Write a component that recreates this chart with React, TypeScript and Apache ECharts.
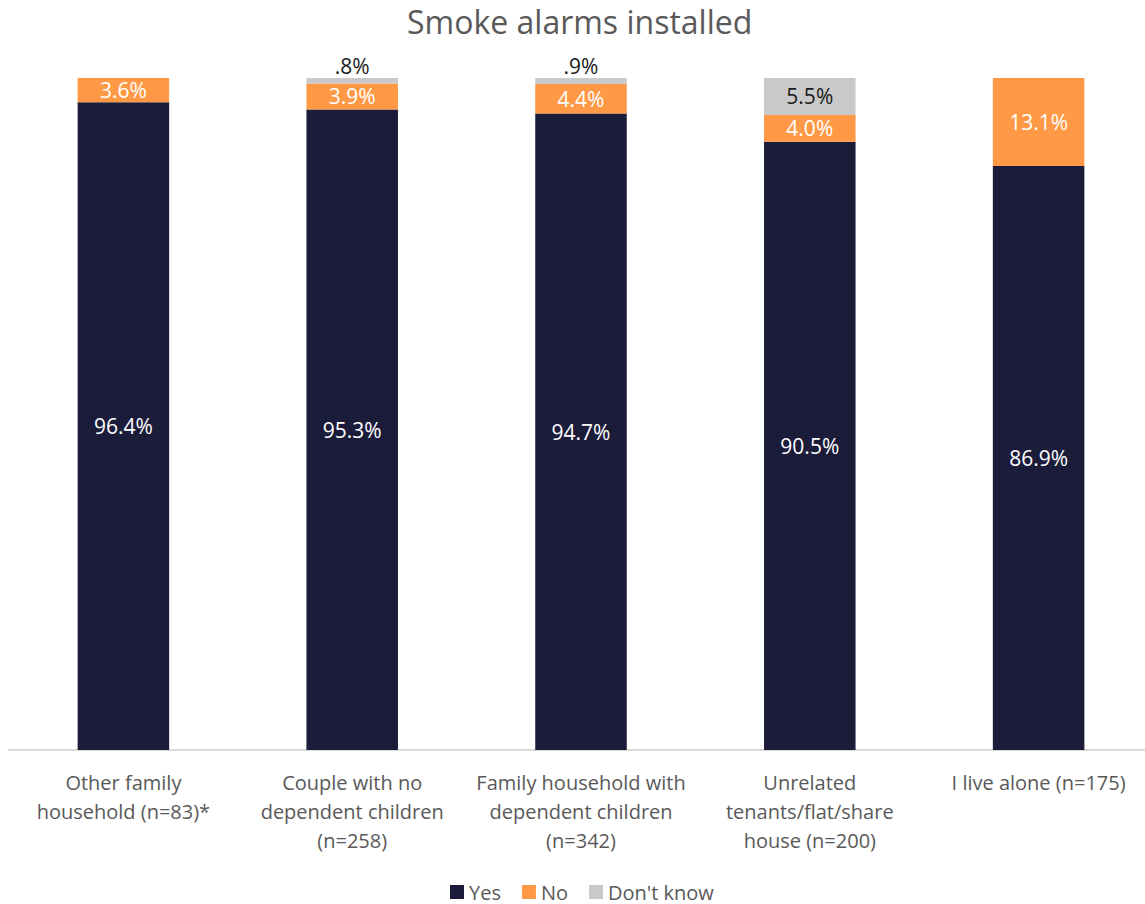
import React, { useEffect, useRef } from "react";
import * as echarts from "echarts";

const categories = [
  "Other family\nhousehold (n=83)*",
  "Couple with no\ndependent children\n(n=258)",
  "Family household with\ndependent children\n(n=342)",
  "Unrelated\ntenants/flat/share\nhouse (n=200)",
  "I live alone (n=175)",
];
const yesValues = [96.4, 95.3, 94.7, 90.5, 86.9];
const noValues = [3.6, 3.9, 4.4, 4.0, 13.1];
const dontKnowValues = [0, 0.8, 0.9, 5.5, 0];

const FONT = "'Open Sans', sans-serif";

function fmt(v: number): string {
  const s = v.toFixed(1);
  return (v < 1 ? s.replace(/^0/, "") : s) + "%";
}

export default function App() {
  const ref = useRef<HTMLDivElement>(null);
  useEffect(() => {
    document.body.style.margin = "0";
    document.body.style.overflow = "hidden";
    const chart = echarts.init(ref.current!, null, { renderer: "svg" });
    const labelBase = { show: true, fontFamily: FONT, fontSize: 21, formatter: (p: any) => fmt(p.value) };
    chart.setOption({
      animation: false,
      title: {
        text: "Smoke alarms installed",
        left: 402,
        top: 0,
        textStyle: { fontFamily: FONT, fontSize: 32, fontWeight: "normal", color: "#595959" },
      },
      legend: {
        top: 882,
        left: 450,
        padding: 0,
        itemWidth: 14,
        itemHeight: 14,
        itemGap: 21,
        icon: "rect",
        textStyle: { fontFamily: FONT, fontSize: 20, lineHeight: 20, color: "#595959" },
        data: ["Yes", "No", "Don't know"],
      },
      grid: { left: 9, width: 1144, top: 78, height: 672, containLabel: false },
      xAxis: {
        type: "category",
        data: categories,
        axisLine: { lineStyle: { color: "#d9d9d9", width: 2 } },
        axisTick: { show: false },
        axisLabel: {
          fontFamily: FONT,
          fontSize: 20,
          color: "#595959",
          lineHeight: 29,
          margin: 18,
          interval: 0,
        },
      },
      yAxis: { type: "value", min: 0, max: 100, show: false, splitLine: { show: false } },
      series: [
        {
          name: "Yes",
          type: "bar",
          stack: "s",
          barWidth: "40%",
          data: yesValues,
          itemStyle: { color: "#1b1b3a" },
          label: { ...labelBase, position: "inside", color: "#ffffff" },
        },
        {
          name: "No",
          type: "bar",
          stack: "s",
          data: noValues,
          itemStyle: { color: "#ff9946" },
          label: { ...labelBase, position: "inside", color: "#ffffff" },
        },
        {
          name: "Don't know",
          type: "bar",
          stack: "s",
          data: dontKnowValues.map((v) => ({
            value: v,
            label: {
              show: v > 0,
              position: v < 2 ? "top" : "inside",
              distance: 2,
            },
          })),
          itemStyle: { color: "#c9c9c9" },
          label: { ...labelBase, color: "#1a1a1a" },
        },
      ],
    });
    return () => chart.dispose();
  }, []);
  return (
    <div style={{ width: 1145, height: 904, overflow: "hidden" }}>
      <div ref={ref} style={{ width: 1160, height: 904 }} />
    </div>
  );
}
